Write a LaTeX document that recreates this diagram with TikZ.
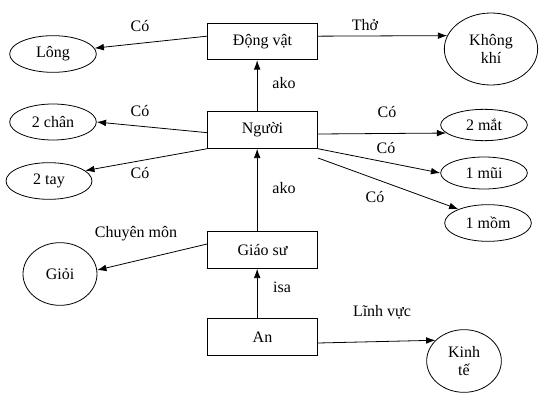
\documentclass[tikz,border=0pt]{standalone}
\usepackage{fontspec}
\setmainfont{Liberation Serif}
\usepackage{tikz}
\usetikzlibrary{shapes.geometric,arrows.meta}
\newcommand*{\boxW}{82.5pt}
\newcommand*{\boxH}{27.5pt}

\begin{document}
\begin{tikzpicture}[x=0.75pt,y=-0.75pt,
    font=\fontsize{12}{13.5}\selectfont,
    line width=0.6pt,
    concept/.style={draw,rectangle,minimum width=\boxW,minimum height=\boxH,inner sep=0pt},
    value/.style={draw,ellipse,inner sep=0pt,align=center},
    rel/.style={inner sep=0pt},
    arr/.style={-{Latex[length=7pt,width=5pt]}}]
    \useasboundingbox (0,0) rectangle (545,403);

    % concepts
    \node [concept] (dongvat) at (262.5,41.5) {Động vật};
    \node [concept] (nguoi) at (262.5,130) {Người};
    \node [concept] (giaosu) at (262.5,250) {Giáo sư};
    \node [concept] (an) at (262.5,337) {An};

    % values
    \node [value,minimum width=65pt,minimum height=27.5pt] (long) at (53,54) {Lông};
    \node [value,minimum width=65pt,minimum height=27pt] (chan) at (53,122) {2 chân};
    \node [value,minimum width=64.5pt,minimum height=27.5pt] (tay) at (49,181) {2 tay};
    \node [value,minimum width=70pt,minimum height=54pt] (khongkhi) at (491,49) {Không\\khí};
    \node [value,minimum width=65pt,minimum height=23.5pt] (mat) at (484,125) {2 mắt};
    \node [value,minimum width=65pt,minimum height=24pt] (mui) at (484,173) {1 mũi};
    \node [value,minimum width=65pt,minimum height=27.5pt] (mom) at (488,223) {1 mồm};
    \node [value,minimum width=55.5pt,minimum height=47pt] (gioi) at (60,274) {Giỏi};
    \node [value,minimum width=56pt,minimum height=47pt] (kinhte) at (464,361) {Kinh\\tế};

    \coordinate (momstart) at (318,158);

    % links
    \draw [arr] ([yshift=4pt]dongvat.west) -- (long.8);
    \draw [arr] ([yshift=4pt]dongvat.east) -- (khongkhi.163);
    \draw [arr] ([xshift=-4pt]nguoi.north) -- ([xshift=-4pt]dongvat.south);
    \draw [arr] ([yshift=-2pt]nguoi.west) -- (chan.east);
    \draw [arr] (nguoi.south west) -- (tay.16);
    \draw [arr] ([yshift=-3pt]nguoi.east) -- (mat.192);
    \draw [arr] (nguoi.south east) -- (mui.west);
    \draw [arr] (momstart) -- (mom.155);
    \draw [arr] ([xshift=-4pt]giaosu.north) -- ([xshift=-4pt]nguoi.south);
    \draw [arr] ([yshift=4.5pt]giaosu.west) -- (gioi.6);
    \draw [arr] ([xshift=-4pt]an.north) -- ([xshift=-4pt]giaosu.south);
    \draw [arr] ([yshift=-4.5pt]an.east) -- (kinhte.144);

    % labels
    \node [rel] (colong) at (140,26) {Có};
    \node [rel] (tho) at (365,25) {Thở};
    \node [rel] (ako1) at (284,83) {ako};
    \node [rel] (cochan) at (140,111) {Có};
    \node [rel] (cotay) at (140,173) {Có};
    \node [rel] (comat) at (387,112) {Có};
    \node [rel] (comui) at (386,148) {Có};
    \node [rel] (comom) at (375,197) {Có};
    \node [rel] (ako2) at (284,188) {ako};
    \node [rel] (chuyenmon) at (136,234) {Chuyên môn};
    \node [rel] (isa) at (282,287) {isa};
    \node [rel] (linhvuc) at (382,312) {Lĩnh vực};
\end{tikzpicture}
\end{document}
